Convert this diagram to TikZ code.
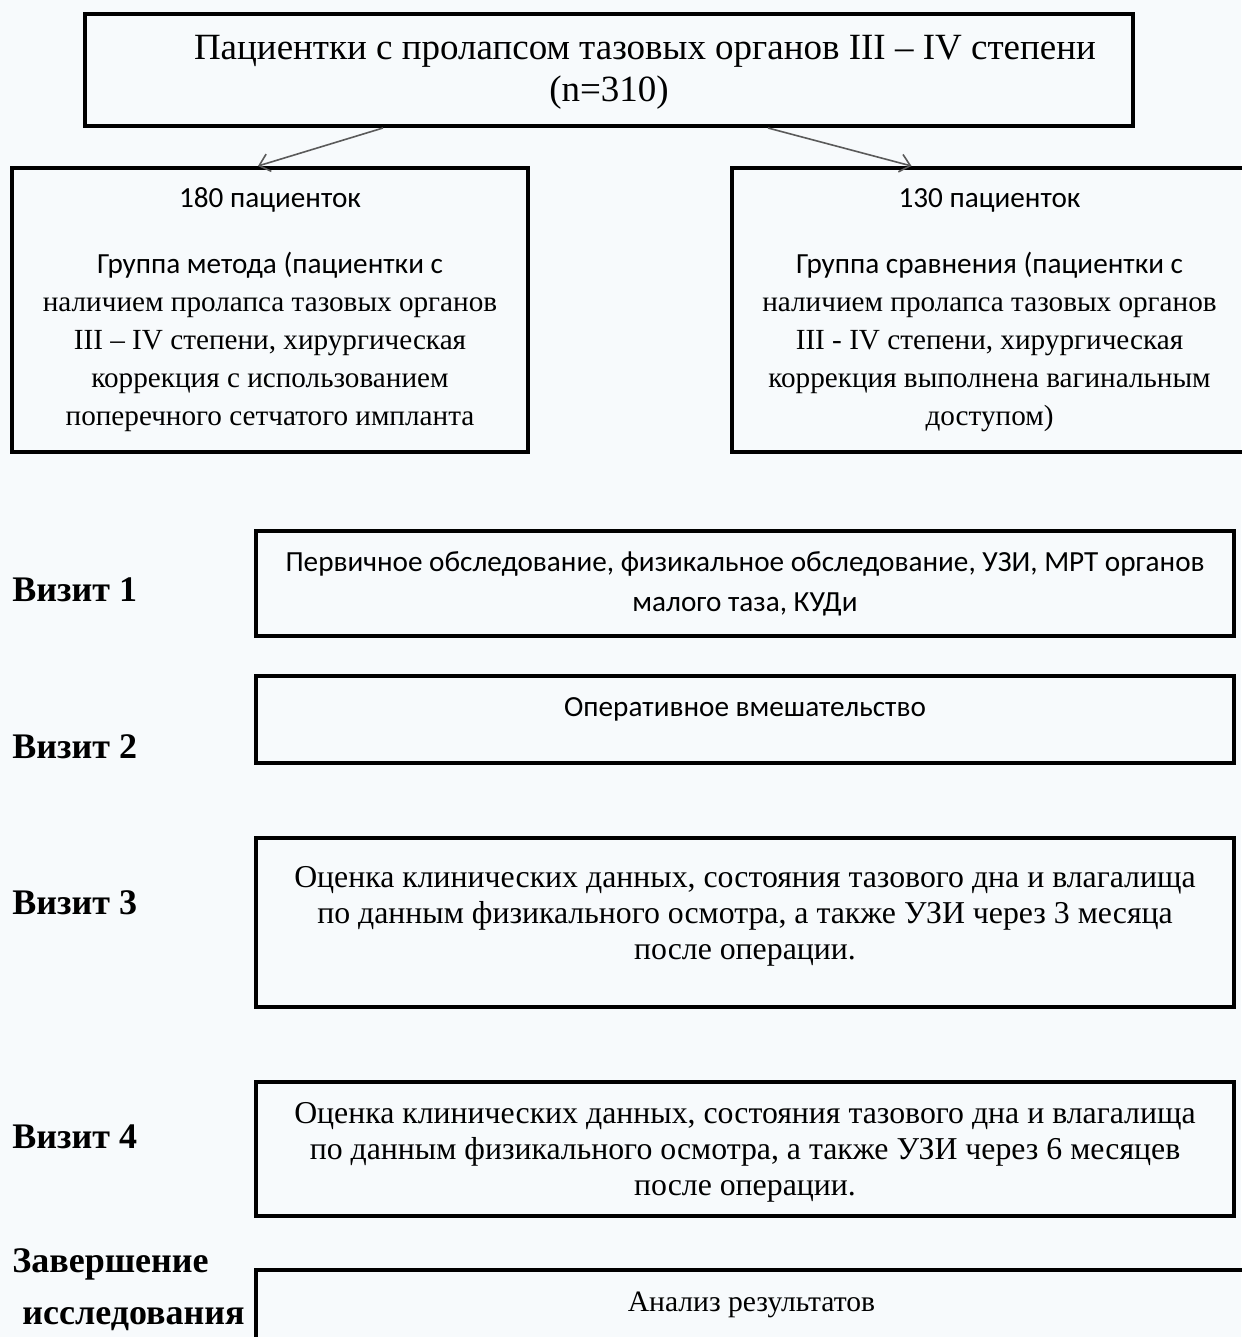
\documentclass[tikz,border=0pt]{standalone}
\usepackage{fontspec}
\setmainfont{Liberation Serif}
\setsansfont{Carlito}
\usetikzlibrary{arrows.meta}
\definecolor{bgpaper}{RGB}{247,250,252}
\definecolor{arrgray}{RGB}{90,90,90}
\tikzset{
  box/.style={draw=black, line width=2pt, inner sep=0pt, align=center},
  lbl/.style={anchor=west, inner sep=0pt, font=\bfseries\fontsize{18}{20}\selectfont},
  arr/.style={draw=arrgray, line width=0.8pt, -{Straight Barb[length=5pt,width=9pt]}},
  toptxt/.style={font=\fontsize{18.5}{21}\selectfont},
  grptxt/.style={font=\fontsize{14.6}{19}\selectfont},
  vsans/.style={font=\sffamily\fontsize{14.6}{20}\selectfont},
  vserif/.style={font=\fontsize{15.9}{18}\selectfont}
}
\begin{document}
\begin{tikzpicture}[x=0.5pt,y=-0.5pt]
    \fill[bgpaper] (0,0) rectangle (1241,1337);
    \useasboundingbox (0,0) rectangle (1241,1337);

    % top box
    \node[box,toptxt,minimum width=524pt,minimum height=56pt,text depth=1.5pt] (top) at (609,70)
      {\hspace*{36pt}Пациентки с пролапсом тазовых органов III – IV степени\\(n=310)};

    % groups
    \node[box,grptxt,minimum width=258pt,minimum height=142pt] (grpA) at (270,310)
      {{\sffamily 180 пациенток}\\[14pt]
       {\sffamily Группа метода (пациентки с}\\
       наличием пролапса тазовых органов\\
       III – IV степени, хирургическая\\
       коррекция с использованием\\
       поперечного сетчатого импланта};
    \node[box,grptxt,minimum width=257.5pt,minimum height=142pt] (grpB) at (989.5,310)
      {{\sffamily 130 пациенток}\\[14pt]
       {\sffamily Группа сравнения (пациентки с}\\
       наличием пролапса тазовых органов\\
       III - IV степени, хирургическая\\
       коррекция выполнена вагинальным\\
       доступом)};

    \draw[arr] ([xshift=-113pt]top.south) -- ([xshift=-6pt]grpA.north);
    \draw[arr] ([xshift=79.5pt]top.south) -- ([xshift=-39pt]grpB.north);

    % visits
    \node[box,vsans,minimum width=489pt,minimum height=52.5pt] (v1) at (745,583.5)
      {Первичное обследование, физикальное обследование, УЗИ, МРТ органов\\малого таза, КУДи};
    \node[box,vsans,minimum width=489pt,minimum height=43.5pt,text depth=12pt] (v2) at (745,719.5)
      {Оперативное вмешательство};
    \node[box,vserif,minimum width=489pt,minimum height=84.5pt,text depth=10pt] (v3) at (745,922.5)
      {Оценка клинических данных, состояния тазового дна и влагалища\\
       по данным физикального осмотра, а также УЗИ через 3 месяца\\
       после операции.};
    \node[box,vserif,minimum width=489pt,minimum height=67pt,text depth=0pt] (v4) at (745,1149)
      {Оценка клинических данных, состояния тазового дна и влагалища\\
       по данным физикального осмотра, а также УЗИ через 6 месяцев\\
       после операции.};
    \node[box,minimum width=495.5pt,minimum height=37.5pt,text depth=6pt,
          font=\fontsize{14.8}{18}\selectfont] (v5) at (751.5,1307.5)
      {Анализ результатов};

    % visit labels
    \node[lbl] (L1) at (12,590) {Визит 1};
    \node[lbl] (L2) at (12,747) {Визит 2};
    \node[lbl] (L3) at (12,903) {Визит 3};
    \node[lbl] (L4) at (12,1137) {Визит 4};
    \node[lbl] (L5) at (12,1264) {Завершение};
    \node[lbl] (L6) at (22,1319) {исследования};
\end{tikzpicture}
\end{document}
